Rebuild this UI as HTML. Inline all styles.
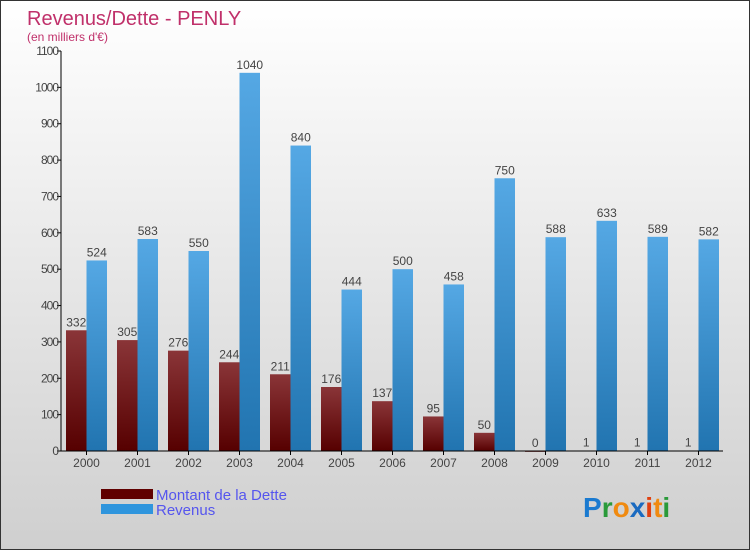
<!DOCTYPE html>
<html><head><meta charset="utf-8"><style>
body{margin:0}
#c{width:750px;height:550px;position:relative;overflow:hidden;background:linear-gradient(#ffffff,#cfcfcf);border:1px solid #333;box-sizing:border-box;font-family:"Liberation Sans",sans-serif}
</style></head><body>
<div id="c">
<svg id="s" width="750" height="550">
<defs>
<linearGradient id="gd" x1="0" y1="0" x2="0" y2="1"><stop offset="0" stop-color="#8a3538"/><stop offset="1" stop-color="#560000"/></linearGradient>
<linearGradient id="gr" x1="0" y1="0" x2="0" y2="1"><stop offset="0" stop-color="#55a8e4"/><stop offset="1" stop-color="#2174b0"/></linearGradient>
</defs>
<text x="26" y="24" font-size="20" fill="#c0306a">Revenus/Dette - PENLY</text>
<text x="26" y="40" font-size="12" fill="#c0306a">(en milliers d'€)</text>
<g id="plot"></g>
<rect x="100" y="488" width="52" height="10" fill="#600000"/>
<rect x="100" y="503" width="52" height="10" fill="#2f95dd"/>
<text x="155" y="499" font-size="15" fill="#5555ee">Montant de la Dette</text>
<text x="155" y="514" font-size="15" fill="#5555ee">Revenus</text>
<text x="582" y="516" font-size="28" font-weight="bold"><tspan fill="#1a7ad0">P</tspan><tspan fill="#2a9a3a">r</tspan><tspan fill="#f08a10">o</tspan><tspan fill="#1a6ac0">x</tspan><tspan fill="#e04010">i</tspan><tspan fill="#f08a10">t</tspan><tspan fill="#2a9a3a">i</tspan></text>
</svg>
</div>
<script>
const years=["2000","2001","2002","2003","2004","2005","2006","2007","2008","2009","2010","2011","2012"];
const dette=[332,305,276,244,211,176,137,95,50,0,1,1,1];
const revenus=[524,583,550,1040,840,444,500,458,750,588,633,589,582];
const ticks=[0,100,200,300,400,500,600,700,800,900,1000,1100];
const NS="http://www.w3.org/2000/svg";
const g=document.getElementById('plot');
const x0=60,y0=450,gw=51,bw=20.5;
const y=v=>y0-v*(400/1100);
function mk(t,a){const e=document.createElementNS(NS,t);for(const k in a)e.setAttribute(k,a[k]);g.appendChild(e);return e;}
ticks.forEach(t=>{
 const l=mk('line',{x1:x0-4,x2:x0,y1:y(t),y2:y(t),stroke:'#000'});
 
 
 const tx=mk('text',{x:x0-3,y:y(t)+4,'text-anchor':'end','font-size':12,fill:'#444','letter-spacing':'-1'});
 tx.textContent=t;
 
 
});
years.forEach((yr,i)=>{
 const gx=x0+5+i*gw;
 const d=mk('rect',{x:gx,y:y(dette[i]),width:bw,height:Math.max(y0-y(dette[i]),0.8),fill:'url(#gd)'});
 
 
 const r=mk('rect',{x:gx+bw,y:y(revenus[i]),width:bw,height:y0-y(revenus[i]),fill:'url(#gr)'});
 
 
 const dl=mk('text',{x:gx+bw/2,y:y(dette[i])-4,'text-anchor':'middle','font-size':12,fill:'#444'});
 dl.textContent=dette[i];
 
 
 const rl=mk('text',{x:gx+bw*1.5,y:y(revenus[i])-4,'text-anchor':'middle','font-size':12,fill:'#444'});
 rl.textContent=revenus[i];
 
 
 const tk=mk('line',{x1:gx+bw,x2:gx+bw,y1:y0,y2:y0+4,stroke:'#000'});
 
 
 const xl=mk('text',{x:gx+bw,y:y0+16,'text-anchor':'middle','font-size':12,fill:'#444'});
 xl.textContent=yr;
 
 
});
const ya=mk('line',{x1:x0,x2:x0,y1:y(1100),y2:y0,stroke:'#000'});


const xa=mk('line',{x1:x0,x2:722,y1:y0,y2:y0,stroke:'#000'});


</script>
</body></html>
